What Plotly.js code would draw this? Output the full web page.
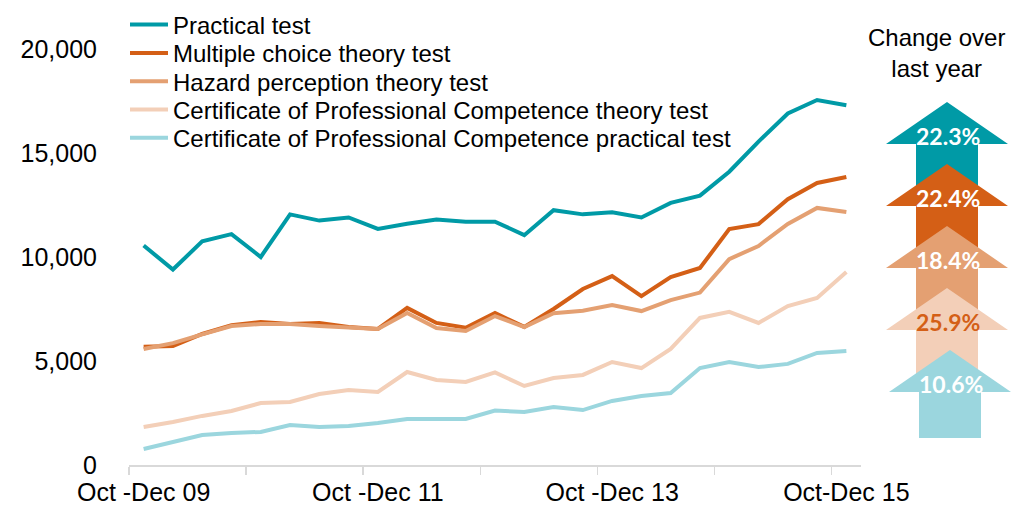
<!DOCTYPE html>
<html>
<head>
<meta charset="utf-8">
<script src="https://cdn.plot.ly/plotly-3.0.1.min.js"></script>
<style>
  html, body { margin: 0; padding: 0; background: #fff; }
  #chart { width: 1030px; height: 506px; }
</style>
</head>
<body>
<div id="chart"></div>
<script>
// quarters from Oct-Dec 09 to Oct-Dec 15
const quarters = [
    'Oct-Dec 09',
    'Jan-Mar 10', 'Apr-Jun 10', 'Jul-Sep 10', 'Oct-Dec 10',
    'Jan-Mar 11', 'Apr-Jun 11', 'Jul-Sep 11', 'Oct-Dec 11',
    'Jan-Mar 12', 'Apr-Jun 12', 'Jul-Sep 12', 'Oct-Dec 12',
    'Jan-Mar 13', 'Apr-Jun 13', 'Jul-Sep 13', 'Oct-Dec 13',
    'Jan-Mar 14', 'Apr-Jun 14', 'Jul-Sep 14', 'Oct-Dec 14',
    'Jan-Mar 15', 'Apr-Jun 15', 'Jul-Sep 15', 'Oct-Dec 15'
];

const practicalTest = [10550, 9400, 10750, 11100, 10000, 12050, 11750, 11900, 11350, 11600, 11800, 11700, 11700,
    11050, 12250, 12050, 12150, 11900, 12600, 12950, 14100, 15550, 16900, 17550, 17300];
const multipleChoice = [5680, 5720, 6300, 6720, 6870, 6780, 6830, 6640, 6540, 7550, 6830, 6600, 7310,
    6640, 7500, 8460, 9080, 8120, 9030, 9470, 11340, 11580, 12780, 13560, 13850];
const hazardPerception = [5580, 5860, 6280, 6680, 6780, 6780, 6680, 6630, 6540, 7310, 6590, 6440, 7160,
    6630, 7300, 7420, 7690, 7400, 7930, 8290, 9900, 10530, 11590, 12360, 12160];
const cpcTheory = [1830, 2070, 2360, 2600, 2980, 3030, 3410, 3610, 3510, 4470, 4090, 3990, 4450,
    3800, 4180, 4330, 4950, 4660, 5580, 7070, 7360, 6830, 7640, 8030, 9280];
const cpcPractical = [770, 1110, 1440, 1540, 1590, 1920, 1830, 1880, 2020, 2210, 2210, 2210, 2620,
    2550, 2790, 2640, 3080, 3320, 3460, 4660, 4950, 4710, 4860, 5390, 5480];

const seriesNames = [
    'Practical test',
    'Multiple choice theory test',
    'Hazard perception theory test',
    'Certificate of Professional Competence theory test',
    'Certificate of Professional Competence practical test'
];
const seriesValues = [practicalTest, multipleChoice, hazardPerception, cpcTheory, cpcPractical];
const seriesColors = ['#009aa6', '#d45f16', '#e4a072', '#f3cfb8', '#9bd6de'];

// change over last year, one arrow per series
const changeLabels = ['22.3%', '22.4%', '18.4%', '25.9%', '10.6%'];
const changeTextColors = ['#ffffff', '#ffffff', '#ffffff', '#d45f16', '#ffffff'];

const labelTicks = [0, 8, 16, 24];
const labelText = ['Oct -Dec 09', 'Oct -Dec 11', 'Oct -Dec 13', 'Oct-Dec 15'];
const boundaryTicks = [-0.5, 3.5, 7.5, 11.5, 15.5, 19.5, 23.5];

// plot area in pixels
const M = { l: 129, r: 169, t: 49, b: 41, autoexpand: false };
const W = 1030, H = 506;
const plotW = W - M.l - M.r;
const plotH = H - M.t - M.b;
function px(x) { return (x - M.l) / plotW; }
function py(y) { return (H - M.b - y) / plotH; }

const xIdx = quarters.map((q, i) => i);
const font = 'Liberation Sans, Arial, sans-serif';

var traces = [];
var legends = {};
for (let i = 0; i < seriesNames.length; i++) {
    const legendId = i === 0 ? 'legend' : 'legend' + (i + 1);
    traces.push({
        x: xIdx,
        y: seriesValues[i],
        text: quarters,
        name: seriesNames[i],
        type: 'scatter',
        mode: 'lines',
        line: { color: seriesColors[i], width: 4 },
        hovertemplate: '%{text}: %{y:,}<extra></extra>',
        legend: legendId
    });
    legends[legendId] = {
        x: px(125), xanchor: 'left',
        y: py(25 + i * 28.3), yanchor: 'middle',
        itemwidth: 38,
        bgcolor: 'rgba(0,0,0,0)',
        font: { family: font, size: 24, color: '#000' }
    };
}

// arrows
var shapes = [];
var annotations = [];
for (let i = 0; i < changeLabels.length; i++) {
    const cx = 947 + (i === 4 ? 3 : 0);
    const tip = 102 + i * 62;
    const base = tip + 42;
    const bottom = tip + 88;
    const pts = [
        [cx, tip], [cx + 61, base], [cx + 31, base], [cx + 31, bottom],
        [cx - 31, bottom], [cx - 31, base], [cx - 61, base]
    ];
    const path = 'M' + pts.map(p => px(p[0]) + ',' + py(p[1])).join('L') + 'Z';
    shapes.push({
        type: 'path', xref: 'paper', yref: 'paper', path: path,
        fillcolor: seriesColors[i], line: { width: 0 }, layer: 'above'
    });
    annotations.push({
        xref: 'paper', yref: 'paper', x: px(cx + 1), y: py(tip + 34),
        xanchor: 'center', yanchor: 'middle',
        text: '<b>' + changeLabels[i] + '</b>', showarrow: false,
        font: { family: 'Lato, Open Sans, sans-serif', size: 23, color: changeTextColors[i] }
    });
}

annotations.push({
    xref: 'paper', yref: 'paper', x: px(936), y: py(53),
    xanchor: 'center', yanchor: 'middle',
    text: 'Change over<br>last year', showarrow: false,
    font: { family: font, size: 24, color: '#000' }
});

var layout = Object.assign({
    width: W,
    height: H,
    margin: M,
    paper_bgcolor: '#fff',
    plot_bgcolor: '#fff',
    showlegend: true,
    xaxis: {
        range: [-0.5, 24.5],
        tickmode: 'array',
        tickvals: labelTicks,
        ticktext: labelText,
        ticks: '',
        ticklabelstandoff: 4,
        showgrid: false,
        zeroline: false,
        showline: true,
        linecolor: '#d9d9d9',
        linewidth: 1.5,
        tickfont: { family: font, size: 25, color: '#000' },
        minor: {
            tickmode: 'array',
            tickvals: boundaryTicks,
            ticks: 'outside',
            ticklen: 8,
            tickwidth: 1.5,
            tickcolor: '#d9d9d9',
            showgrid: false
        }
    },
    yaxis: {
        range: [0, 20000],
        tickvals: [0, 5000, 10000, 15000, 20000],
        tickformat: ',d',
        ticks: '',
        ticklabelstandoff: 31,
        showgrid: false,
        zeroline: false,
        showline: false,
        tickfont: { family: font, size: 25, color: '#000' }
    },
    shapes: shapes,
    annotations: annotations
}, legends);

Plotly.newPlot('chart', traces, layout, { displayModeBar: false, staticPlot: true });
</script>
</body>
</html>
